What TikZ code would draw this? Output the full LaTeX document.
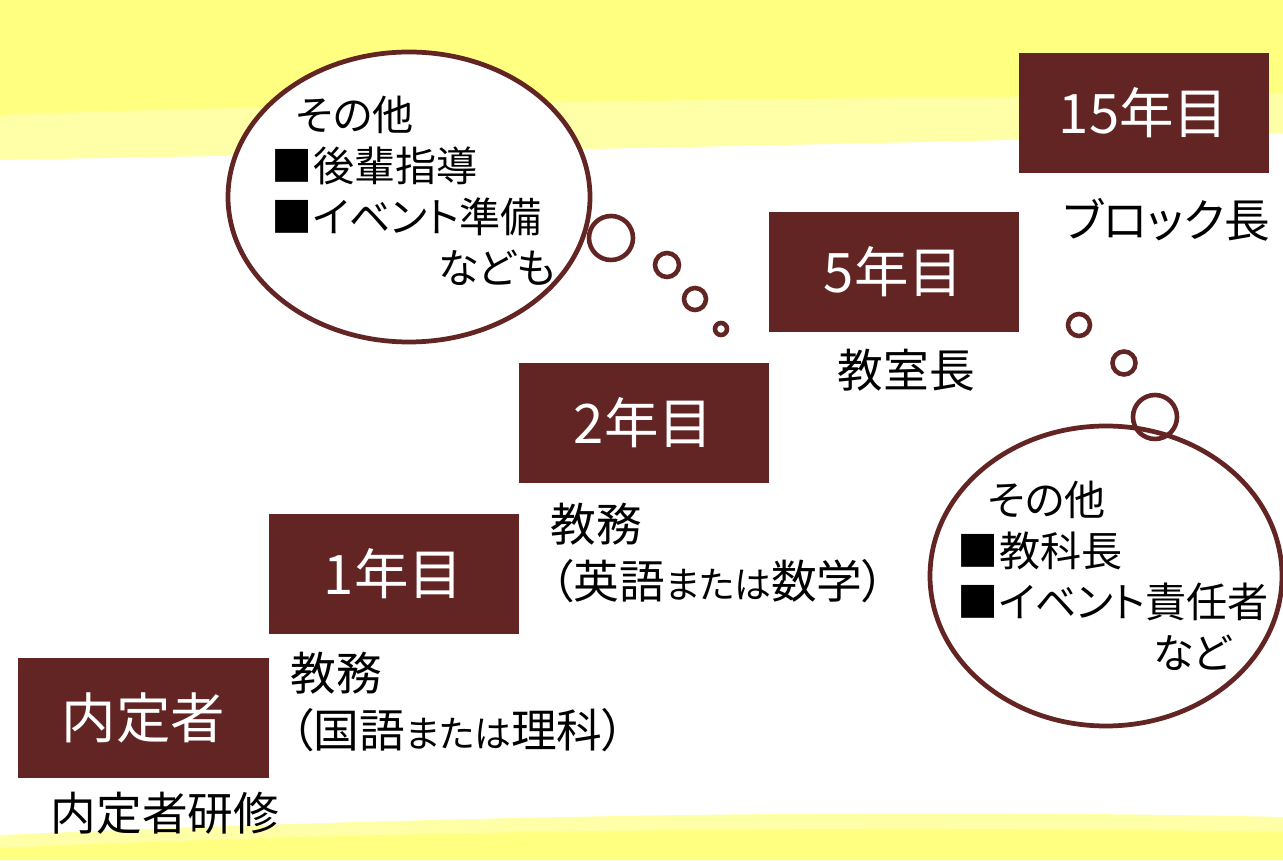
\documentclass[tikz,border=0pt]{standalone}
\usepackage{fontspec}
\setmainfont{Noto Sans CJK JP}[RawFeature={+palt}]
\usepackage{tikz}
\usetikzlibrary{positioning,shapes.geometric}
\definecolor{darkbrown}{HTML}{632523}
\definecolor{bandyellow}{HTML}{FFFF80}
\definecolor{paleyellow}{HTML}{FFFFA8}
\newcommand{\smallkana}[1]{{\fontsize{21}{32}\selectfont #1}}

\begin{document}
\begin{tikzpicture}[font=\fontsize{26}{32}\selectfont]
  \tikzset{yearbox/.style={fill=darkbrown,text=white,minimum width=5cm,minimum height=2.4cm,inner sep=0pt,outer sep=0pt,font=\fontsize{31}{37}\selectfont},
    role/.style={inner sep=0pt,align=left},
    thought/.style={ellipse,draw=darkbrown,line width=2.7pt,fill=white},
    puff/.style={circle,draw=darkbrown,line width=2.6pt,inner sep=0pt},
    thoughttext/.style={inner sep=0pt,align=left,font=\fontsize{23.4}{29}\selectfont}}
  % background bands
  \useasboundingbox (0,0) rectangle (25.66,17.2);
  \fill[white] (0,0) rectangle (25.66,17.2);
  \fill[paleyellow] (0,17.2) -- (0,14.0) .. controls (8,14.15) and (17,14.3) .. (25.66,14.54) -- (25.66,17.2) -- cycle;
  \fill[bandyellow] (0,17.2) -- (0,14.9) .. controls (8,15.2) and (17,15.2) .. (25.66,15.34) -- (25.66,17.2) -- cycle;
  \fill[paleyellow] (0,0) -- (0,0.5) .. controls (8,0.85) and (17,1.05) .. (25.66,0.86) -- (25.66,0) -- cycle;
  \fill[bandyellow] (0,0) -- (0,0.24) .. controls (8,0.6) and (17,0.7) .. (25.66,0.56) -- (25.66,0) -- cycle;

  % steps
  \node[yearbox] (naitei) at (2.87,2.84) {内定者};
  \node[yearbox,above right=0.48cm and 0cm of naitei] (year1) {1年目};
  \node[yearbox,above right=0.62cm and 0cm of year1] (year2) {2年目};
  \node[yearbox,above right=0.62cm and 0cm of year2] (year5) {5年目};
  \node[yearbox,above right=0.78cm and 0cm of year5] (year15) {15年目};

  \node[role,below=0.28cm of naitei,xshift=0.43cm] (training) {内定者研修};
  \node[role,below right=0.36cm and 0.44cm of year1.south west] (duty1) {教務\\（国語\smallkana{または}理科）};
  \node[role,below right=0.4cm and 0.64cm of year2.south west] (duty2) {教務\\（英語\smallkana{または}数学）};
  \node[role,below=0.34cm of year5,xshift=0.26cm] (head5) {教室長};
  \node[role,below=0.5cm of year15,xshift=0.46cm] (head15) {ブロック長};

  % thought bubbles
  \node[thought,minimum width=7.24cm,minimum height=5.8cm] (thinkL) at (8.18,13.26) {};
  \node[thoughttext,right=0.92cm of thinkL.west,yshift=0.12cm] (textL) {\hspace{0.48cm}その他\\■後輩指導\\■イベント準備\\\hspace{3.32cm}なども};
  \node[thought,minimum width=7.04cm,minimum height=6cm] (thinkR) at (22.12,5.68) {};
  \node[thoughttext,right=0.6cm of thinkR.west] (textR) {\hspace{0.6cm}その他\\■教科長\\■イベント責任者\\\hspace{3.9cm}など};

  \node[puff,minimum size=0.88cm] (puffL1) at (12.22,12.44) {};
  \node[puff,minimum size=0.48cm] (puffL2) at (13.34,11.9) {};
  \node[puff,minimum size=0.44cm] (puffL3) at (13.9,11.22) {};
  \node[puff,minimum size=0.24cm] (puffL4) at (14.42,10.62) {};
  \node[puff,minimum size=0.44cm] (puffR1) at (21.58,10.7) {};
  \node[puff,minimum size=0.46cm] (puffR2) at (22.48,9.94) {};
  \node[puff,minimum size=0.88cm] (puffR3) at (23.1,8.86) {};
\end{tikzpicture}
\end{document}
